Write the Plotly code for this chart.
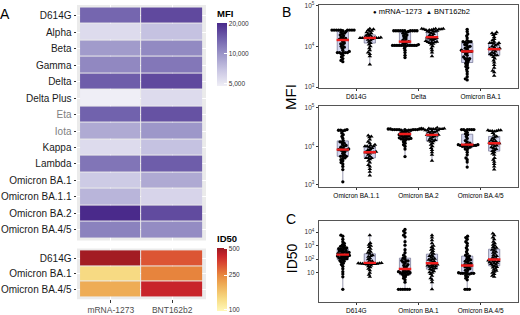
import numpy as np
import plotly.graph_objects as go

# ---------------- Panel A data ----------------
mfi_variants = ["D614G", "Alpha", "Beta", "Gamma", "Delta", "Delta Plus", "Eta", "Iota",
                "Kappa", "Lambda", "Omicron BA.1", "Omicron BA.1.1", "Omicron BA.2", "Omicron BA.4/5"]
vaccines = ["mRNA-1273", "BNT162b2"]
mfi_mrna = [13700, 5600, 9500, 10850, 14600, 4700, 14100, 8450, 5600, 12400, 6500, 7740, 20400, 11350]
mfi_bnt = [16600, 7000, 10700, 12200, 16600, 5600, 15700, 9800, 7000, 14600, 8450, 5950, 16400, 10550]
grey_labels = ["Eta", "Iota"]
mfi_ticks = [5000, 10000, 20000]
mfi_ticktext = ["5,000", "10,000", "20,000"]

id50_variants = ["D614G", "Omicron BA.1", "Omicron BA.4/5"]
id50_mrna = [498, 135, 195]
id50_bnt = [322, 255, 421]
id50_ticks = [100, 250, 500]
id50_limits = [97, 515]

# ---------------- Panel B data (MFI per participant) ----------------
b_top_groups = ["D614G", "Delta", "Omicron BA.1"]
b_bot_groups = ["Omicron BA.1.1", "Omicron BA.2", "Omicron BA.4/5"]

mfi_d614g_mrna = [25000, 25000, 25000, 25000, 25000, 25000, 25000, 25000, 25000, 24000, 23000, 22000, 21000,
                  20000, 19000, 18000, 17000, 16000, 15500, 15000, 14500, 14000, 13000, 12000, 11500, 11000,
                  10000, 9500, 9000, 8000, 7500, 7000, 7000, 7000, 7000, 7000, 6500, 6000, 5500, 5000, 4500, 4200]
mfi_d614g_bnt = [27000, 26000, 25000, 24000, 23000, 22000, 21000, 20000, 19000, 18000, 17500, 17000, 16500,
                 16000, 16000, 16000, 16000, 16000, 16000, 16000, 16000, 15000, 14500, 14000, 13000, 12000,
                 11000, 10000, 9000, 8000, 7000, 6500, 5700, 3600]
mfi_delta_mrna = [24000, 24000, 24000, 24000, 24000, 24000, 24000, 24000, 24000, 24000, 23000, 22000, 21000,
                  20000, 19000, 18000, 17000, 16000, 15000, 14000, 13500, 13000, 12500, 12000, 11500, 11000,
                  10500, 10500, 10500, 10500, 10500, 10500, 10500, 10500, 10500, 10500, 10500,
                  10000, 9000, 8000, 7000, 6000, 5300]
mfi_delta_bnt = [27000, 27000, 27000, 26000, 26000, 26000, 26000, 25000, 25000, 25000, 24000, 23000, 23000,
                 23000, 22000, 21000, 20000, 19000, 18000, 17000, 16500, 16000, 15800, 15500, 15000, 14500,
                 14000, 13500, 13000, 12800, 12600, 12500, 12000, 11500, 11000, 10000, 9000, 8000, 7000, 5700]
mfi_ba1_mrna = [26000, 23000, 20000, 18000, 16000, 14000, 13000, 13000, 13000, 12500, 12000, 11000, 10500,
                10000, 9500, 9000, 8500, 8000, 7500, 7500, 7500, 7500, 7000, 6500, 6000, 5500, 5000, 5000,
                5000, 4500, 4400, 4000, 3800, 3500, 3200, 3000, 2700, 2400, 2100, 1800, 1600, 1500]
mfi_ba1_bnt = [22000, 21000, 20000, 19000, 17000, 15000, 14000, 13000, 12000, 12000, 12000, 11500, 11000,
               10500, 10000, 9500, 9000, 8800, 8500, 8500, 8500, 8000, 7500, 7000, 6800, 6500, 6000, 6000,
               6000, 5500, 5000, 4500, 4000, 3500, 3000, 2500, 2300, 1900]
mfi_ba11_mrna = [27000, 26000, 26000, 26000, 25000, 22000, 20000, 18000, 16000, 14000, 13000, 12500, 12000,
                 11000, 10500, 10000, 9500, 9000, 8500, 8200, 8000, 8000, 8000, 7500, 7000, 6500, 6000, 5500,
                 5500, 5500, 5000, 4800, 4500, 4200, 3800, 3500, 3000, 2500, 1200]
mfi_ba11_bnt = [19000, 18000, 17000, 15000, 13000, 12000, 11000, 10500, 10000, 10000, 10000, 9500, 9000,
                8500, 8000, 7500, 7200, 7000, 7000, 7000, 6800, 6500, 6000, 5500, 5000, 5000, 5000, 4600,
                4200, 3800, 3300, 3000, 2600, 2200, 1750]
mfi_ba2_mrna = [28000, 28000, 28000, 28000, 27000, 27000, 27000, 27000, 27000, 27000, 27000, 27000, 26000,
                26000, 26000, 25000, 24000, 23000, 22000, 21500, 21000, 20500, 20000, 19500, 19000, 18500,
                18000, 17500, 17000, 16500, 16000, 15500, 15500, 15500, 15000, 14000, 13000, 12000, 11000,
                10000, 8500, 5400]
mfi_ba2_bnt = [30000, 29000, 29000, 29000, 28000, 28000, 28000, 28000, 28000, 28000, 26000, 26000, 26000,
               25000, 24000, 23500, 23000, 22000, 21000, 20000, 19500, 19000, 19000, 19000, 18000, 17000,
               16000, 15000, 14500, 14000, 13500, 13000, 12000, 11000, 10000, 9000, 8000, 7000, 6000, 4200]
mfi_ba45_mrna = [27000, 27000, 27000, 27000, 27000, 27000, 25000, 23000, 21000, 20000, 18000, 16000, 14000,
                 13000, 12000, 11500, 11000, 11000, 11000, 10500, 10500, 10500, 10500, 10000, 10000, 10000,
                 9500, 9000, 8500, 8000, 7000, 6000, 5000, 4500, 3900, 2900]
mfi_ba45_bnt = [26000, 26000, 26000, 25000, 25000, 25000, 24000, 22000, 20000, 18000, 17000, 16000, 15000,
                14000, 13500, 13000, 12500, 12000, 12000, 12000, 11500, 11000, 10500, 10000, 9500, 9000,
                8500, 8000, 7500, 7000, 6500, 6000, 5000, 4500, 4000, 3500, 3000, 2500]

# ---------------- Panel C data (ID50 per participant) ----------------
c_groups = ["D614G", "Omicron BA.1", "Omicron BA.4/5"]
id50_d614g_mrna = [6000, 5000, 3000, 2000, 1500, 1200, 1000, 900, 800, 700, 650, 600, 550, 500, 450, 400, 380,
                   350, 320, 300, 280, 260, 240, 220, 200, 190, 180, 170, 160, 150, 140, 130, 120, 110, 100,
                   90, 80, 70, 60, 50, 40, 30, 20, 12, 8, 5, 0.6]
id50_d614g_bnt = [5900, 1600, 1200, 1000, 800, 600, 450, 350, 300, 250, 200, 170, 150, 120, 100, 80, 70, 60,
                  55, 52, 50, 50, 48, 47, 46, 45, 45, 44, 42, 40, 35, 30, 25, 20, 15, 10, 7, 5]
id50_ba1_mrna = [16000, 12000, 9000, 6000, 4500, 2000, 1100, 500, 300, 200, 150, 120, 100, 80, 75, 70, 60, 50,
                 40, 35, 30, 25, 20, 18, 15, 13, 12, 12, 11, 10, 10, 9, 8, 8, 7, 6, 5, 4, 3, 2,
                 0.6, 0.6, 0.6, 0.6, 0.6, 0.6]
id50_ba1_bnt = [6000, 4000, 2500, 1500, 1000, 800, 600, 500, 400, 300, 250, 200, 170, 150, 130, 110, 100, 90,
                80, 70, 60, 50, 45, 40, 38, 35, 32, 30, 28, 25, 22, 20, 18, 15, 13, 11, 10, 8, 6, 4, 3, 2, 0.6]
id50_ba45_mrna = [5000, 4000, 3000, 2000, 1500, 1000, 700, 500, 350, 250, 200, 170, 150, 120, 100, 90, 80, 70,
                  60, 50, 45, 40, 36, 33, 30, 27, 24, 20, 17, 15, 12, 10, 9, 9, 9, 9, 9, 8, 8, 6, 5, 4, 3,
                  0.6, 0.6, 0.6]
id50_ba45_bnt = [8000, 6000, 4000, 3000, 2000, 1500, 1200, 1000, 800, 700, 600, 500, 420, 350, 300, 250, 200,
                 170, 150, 130, 110, 100, 90, 80, 75, 70, 65, 60, 55, 50, 45, 40, 35, 30, 27, 24, 20, 17, 14,
                 12, 10, 8, 6, 5]

# ---------------- styling / layout helpers ----------------
W, H = 520, 315
FONT = "Liberation Sans, Arial, sans-serif"


def xd(a, b):
    return [a / W, b / W]


def yd(top, bottom):
    return [1 - bottom / H, 1 - top / H]


def swarm_offsets(vals, px_per_dec, d):
    """Beeswarm layout: horizontal pixel offsets so markers do not overlap."""
    ys = np.log10(np.asarray(vals, dtype=float)) * px_per_dec
    order = np.argsort(ys, kind="stable")
    offs = np.zeros(len(ys))
    placed = []
    for i in order:
        y = ys[i]
        iv = []
        for yj, xj in placed:
            dy = abs(y - yj)
            if dy < d:
                h = np.sqrt(d * d - dy * dy)
                iv.append((xj - h, xj + h))
        cands = [0.0] + [a for a, b in iv] + [b for a, b in iv]
        cands.sort(key=lambda c: (round(abs(c), 6), c))
        for c in cands:
            if all(not (a + 1e-6 < c < b - 1e-6) for a, b in iv):
                offs[i] = c
                break
        placed.append((y, offs[i]))
    return offs


fig = go.Figure()

# ---------------- Panel A heatmaps ----------------
mfi_scale = [[0, "#EFEEF6"], [0.25, "#C9C6E3"], [0.5, "#9D97C9"], [0.75, "#7162AD"], [1, "#4A2A8B"]]
id50_scale = [[0, "#FFF8B8"], [0.2, "#F7DA82"], [0.42, "#EEAC55"], [0.57, "#E8873E"],
              [0.75, "#DA4A32"], [0.88, "#C8242A"], [1, "#9C1A22"]]

fig.add_trace(go.Heatmap(
    z=[[np.log10(m), np.log10(b)] for m, b in zip(mfi_mrna, mfi_bnt)],
    x=vaccines, y=mfi_variants, coloraxis="coloraxis", xgap=1, ygap=1,
    xaxis="x", yaxis="y", hoverinfo="skip"))
fig.add_trace(go.Heatmap(
    z=[[np.log10(m), np.log10(b)] for m, b in zip(id50_mrna, id50_bnt)],
    x=vaccines, y=id50_variants, coloraxis="coloraxis2", xgap=1, ygap=1,
    xaxis="x2", yaxis="y2", hoverinfo="skip"))

# ---------------- Panels B and C: box + beeswarm ----------------
UNIT_PX = 199 / 3.2
DODGE = 0.217
BOX_W = 0.18
SWARM_D = 2.2

panels = [
    ("x3", "y3", b_top_groups, [(mfi_d614g_mrna, mfi_d614g_bnt), (mfi_delta_mrna, mfi_delta_bnt),
                                (mfi_ba1_mrna, mfi_ba1_bnt)], 85 / (5.012 - 2.976)),
    ("x4", "y4", b_bot_groups, [(mfi_ba11_mrna, mfi_ba11_bnt), (mfi_ba2_mrna, mfi_ba2_bnt),
                                (mfi_ba45_mrna, mfi_ba45_bnt)], 83 / (5.05 - 2.95)),
    ("x5", "y5", c_groups, [(id50_d614g_mrna, id50_d614g_bnt), (id50_ba1_mrna, id50_ba1_bnt),
                            (id50_ba45_mrna, id50_ba45_bnt)], 83 / 6.0),
]

medians = []
for xa, ya, groups, data, ppd in panels:
    for gi, (vm, vb) in enumerate(data):
        for k, (vals, sym, size) in enumerate([(vm, "circle", 3.3), (vb, "triangle-up", 4.0)]):
            pos = gi + 1 + (-DODGE if k == 0 else DODGE)
            fig.add_trace(go.Box(
                y=vals, x0=pos, width=BOX_W, boxpoints=False, quartilemethod="linear",
                fillcolor="#D3D6EF", line=dict(color="#6E6E8E", width=0.7), whiskerwidth=0,
                xaxis=xa, yaxis=ya, showlegend=False, hoverinfo="skip"))
            offs = swarm_offsets(vals, ppd, SWARM_D)
            fig.add_trace(go.Scatter(
                x=pos + offs / UNIT_PX, y=vals, mode="markers",
                marker=dict(symbol=sym, size=size, color="black", line=dict(width=0)),
                xaxis=xa, yaxis=ya, showlegend=False, hoverinfo="skip"))
            medians.append((xa, ya, pos, float(np.median(vals))))

for xa, ya, pos, med in medians:
    fig.add_trace(go.Scatter(
        x=[pos - 0.1, pos + 0.1], y=[med, med], mode="lines",
        line=dict(color="#EE1C1C", width=2.4), xaxis=xa, yaxis=ya,
        showlegend=False, hoverinfo="skip"))

# ---------------- axes ----------------
heat_y_text = [f'<span style="color:#808080">{v}</span>' if v in grey_labels else v for v in mfi_variants]
tick_common = dict(ticks="outside", ticklen=2.5, tickcolor="#333333", tickwidth=0.7)

layout_axes = dict(
    xaxis=dict(domain=xd(77, 206), anchor="y", type="category", range=[-0.55, 1.55],
               showticklabels=False, ticks="", showgrid=True, gridcolor="white", zeroline=False),
    yaxis=dict(domain=yd(1, 242), anchor="x", type="category", range=[13.655, -0.655],
               tickvals=mfi_variants, ticktext=heat_y_text, showgrid=True, gridcolor="white",
               tickfont=dict(size=10, color="#1A1A1A"), zeroline=False, **tick_common),
    xaxis2=dict(domain=xd(77, 206), anchor="y2", type="category", range=[-0.55, 1.55],
                tickfont=dict(size=8.5, color="#4D4D4D"), showgrid=True, gridcolor="white",
                zeroline=False, **tick_common),
    yaxis2=dict(domain=yd(250, 302), anchor="x2", type="category", range=[2.625, -0.625],
                tickfont=dict(size=10, color="#1A1A1A"), showgrid=True, gridcolor="white",
                zeroline=False, **tick_common),
)

frame = dict(showline=True, mirror=True, linecolor="#555555", linewidth=0.8, showgrid=False, zeroline=False)
log_ticks = dict(tickvals=[1e3, 1e4, 1e5], ticktext=["10<sup>3</sup>", "10<sup>4</sup>", "10<sup>5</sup>"])
for i, (xa, ya, groups, data, ppd) in enumerate(panels):
    n = xa[1:]
    layout_axes["xaxis" + n] = dict(domain=xd(319, 518), anchor="y" + n, range=[0.4, 3.6],
                                    tickvals=[1, 2, 3], ticktext=groups,
                                    tickfont=dict(size=6.5, color="black"), **tick_common, **frame)
ycommon = dict(tickfont=dict(size=6.5, color="#333333"), ticklabeloverflow="allow", **tick_common, **frame)
layout_axes["yaxis3"] = dict(domain=yd(1, 86), anchor="x3", type="log", range=[2.976, 5.012],
                             **log_ticks, **ycommon)
layout_axes["yaxis4"] = dict(domain=yd(104, 187), anchor="x4", type="log", range=[2.95, 5.05],
                             **log_ticks, **ycommon)
layout_axes["yaxis5"] = dict(domain=yd(221.5, 304.5), anchor="x5", type="log", range=[-1.143, 4.857],
                             tickvals=[10, 100, 1000, 10000],
                             ticktext=["10", "10<sup>2</sup>", "10<sup>3</sup>", "10<sup>4</sup>"], **ycommon)

# ---------------- colour axes ----------------
coloraxis = dict(
    colorscale=mfi_scale,
    colorbar=dict(x=217 / W, xanchor="left", y=1 - 3 / H, yanchor="top", len=81 / H, lenmode="fraction",
                  thickness=10, thicknessmode="pixels", outlinewidth=0, ypad=0, xpad=0,
                  tickvals=list(np.log10(mfi_ticks)), ticktext=mfi_ticktext,
                  ticks="inside", ticklen=3, tickcolor="white",
                  tickfont=dict(size=6.5, color="#333333"),
                  title=dict(text="<b>MFI</b>", side="top", font=dict(size=9.5, color="black"))))
coloraxis2 = dict(
    colorscale=id50_scale, cmin=np.log10(id50_limits[0]), cmax=np.log10(id50_limits[1]),
    colorbar=dict(x=217 / W, xanchor="left", y=1 - 233 / H, yanchor="top", len=81 / H, lenmode="fraction",
                  thickness=10, thicknessmode="pixels", outlinewidth=0, ypad=0, xpad=0,
                  tickvals=list(np.log10(id50_ticks)), ticktext=[str(t) for t in id50_ticks],
                  ticks="inside", ticklen=3, tickcolor="white",
                  tickfont=dict(size=6.5, color="#333333"),
                  title=dict(text="<b>ID50</b>", side="top", font=dict(size=9.5, color="black"))))

# ---------------- annotations ----------------
def ann(text, px, py, size, angle=0, color="black"):
    return dict(text=text, x=px / W, y=1 - py / H, xref="paper", yref="paper", showarrow=False,
                xanchor="center", yanchor="middle", textangle=angle,
                font=dict(size=size, color=color, family=FONT))


annotations = [
    ann("A", 5, 10, 14),
    ann("B", 286, 8, 14),
    ann("C", 291, 220, 14),
    ann("MFI", 291, 95, 15, -90),
    ann("ID50", 292, 260, 14, -90),
    ann('<span style="font-size:6px">●</span> mRNA−1273  <span style="font-size:6px">▲</span> BNT162b2',
        421, 8, 7.5),
]

shapes = [
    dict(type="rect", xref="x domain", yref="y domain", x0=0, x1=1, y0=0, y1=1,
         fillcolor="#EBEBEB", line_width=0, layer="below"),
    dict(type="rect", xref="x2 domain", yref="y2 domain", x0=0, x1=1, y0=0, y1=1,
         fillcolor="#EBEBEB", line_width=0, layer="below"),
]

fig.update_layout(
    width=W, height=H, margin=dict(l=0, r=0, t=0, b=0),
    paper_bgcolor="white", plot_bgcolor="white",
    font=dict(family=FONT, color="black"),
    showlegend=False,
    coloraxis=coloraxis, coloraxis2=coloraxis2,
    annotations=annotations, shapes=shapes,
    **layout_axes,
)

fig.write_html("out.html", config={"displayModeBar": False},
               post_script="document.body.style.margin='0';document.body.style.overflow='hidden';")
